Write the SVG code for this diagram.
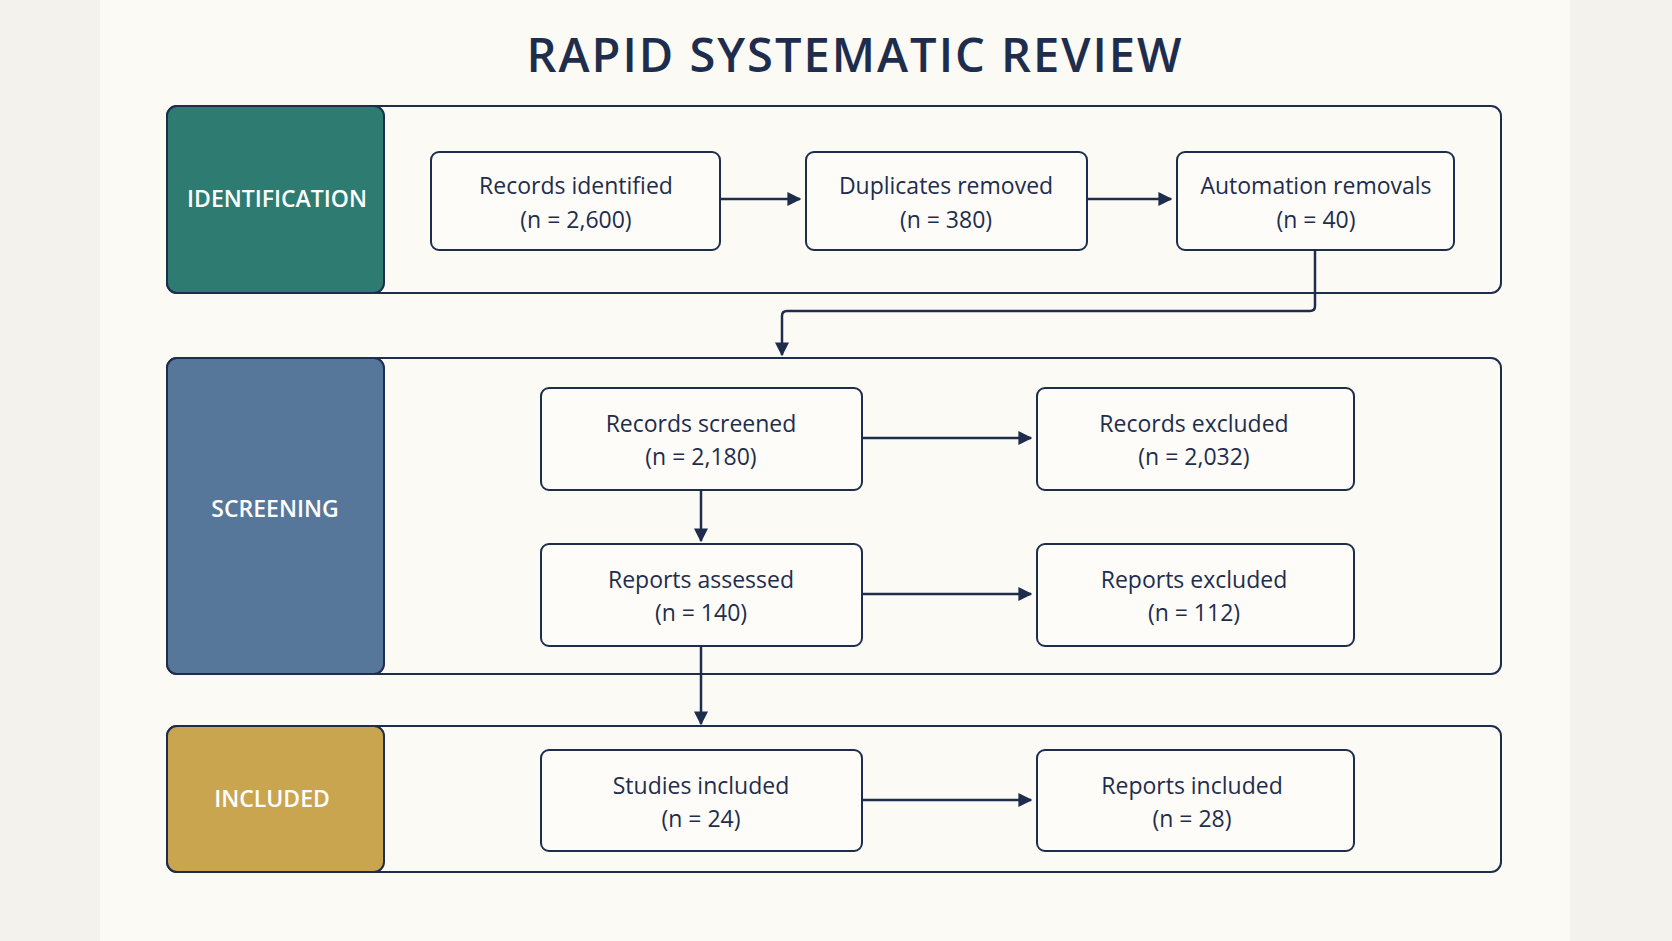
<svg xmlns="http://www.w3.org/2000/svg" width="1672" height="941" viewBox="0 0 1672 941">
<defs>
<marker id="ah" viewBox="0 0 10 10" refX="9" refY="5" markerWidth="14" markerHeight="14" orient="auto" markerUnits="userSpaceOnUse"><path d="M0,0 L10,5 L0,10 z" fill="#1f2d4d"/></marker>
<style>
.band{fill:none;stroke:#1f2d4d;stroke-width:2}
.node{fill:#fdfcf8;stroke:#1f2d4d;stroke-width:2}
.t{font-family:"Open Sans","Liberation Sans",sans-serif;font-size:23px;fill:#1f2d4d;text-anchor:middle}
.lab{font-family:"Open Sans","Liberation Sans",sans-serif;font-size:23px;font-weight:600;fill:#ffffff;text-anchor:middle}
.c{fill:none;stroke:#1f2d4d;stroke-width:2.5;marker-end:url(#ah)}
</style>
</defs>
<rect width="1672" height="941" fill="#f4f2ec"/>
<rect x="100" y="0" width="1470" height="941" fill="#fbfaf5"/>
<text x="855" y="72" font-family="'Open Sans','Liberation Sans',sans-serif" font-size="47" font-weight="600" fill="#1f2d4d" text-anchor="middle" letter-spacing="2">RAPID SYSTEMATIC REVIEW</text>
<g id="identification">
<rect class="band" x="167" y="106" width="1334" height="187" rx="10"/>
<rect x="167" y="106" width="217" height="187" rx="10" fill="#2e7b72" stroke="#1f2d4d" stroke-width="2"/>
<text class="lab" x="277" y="207">IDENTIFICATION</text>
</g>
<g id="screening">
<rect class="band" x="167" y="358" width="1334" height="316" rx="10"/>
<rect x="167" y="358" width="217" height="316" rx="10" fill="#567799" stroke="#1f2d4d" stroke-width="2"/>
<text class="lab" x="275" y="517">SCREENING</text>
</g>
<g id="included">
<rect class="band" x="167" y="726" width="1334" height="146" rx="10"/>
<rect x="167" y="726" width="217" height="146" rx="10" fill="#c9a550" stroke="#1f2d4d" stroke-width="2"/>
<text class="lab" x="272" y="807">INCLUDED</text>
</g>
<g id="n1"><rect class="node" x="431" y="152" width="289" height="98" rx="8"/><text class="t" x="576" y="194">Records identified</text><text class="t" x="576" y="228">(n = 2,600)</text></g>
<g id="n2"><rect class="node" x="806" y="152" width="281" height="98" rx="8"/><text class="t" x="946" y="194">Duplicates removed</text><text class="t" x="946" y="228">(n = 380)</text></g>
<g id="n3"><rect class="node" x="1177" y="152" width="277" height="98" rx="8"/><text class="t" x="1316" y="194">Automation removals</text><text class="t" x="1316" y="228">(n = 40)</text></g>
<g id="n4"><rect class="node" x="541" y="388" width="321" height="102" rx="8"/><text class="t" x="701" y="432">Records screened</text><text class="t" x="701" y="465">(n = 2,180)</text></g>
<g id="n5"><rect class="node" x="1037" y="388" width="317" height="102" rx="8"/><text class="t" x="1194" y="432">Records excluded</text><text class="t" x="1194" y="465">(n = 2,032)</text></g>
<g id="n6"><rect class="node" x="541" y="544" width="321" height="102" rx="8"/><text class="t" x="701" y="588">Reports assessed</text><text class="t" x="701" y="621">(n = 140)</text></g>
<g id="n7"><rect class="node" x="1037" y="544" width="317" height="102" rx="8"/><text class="t" x="1194" y="588">Reports excluded</text><text class="t" x="1194" y="621">(n = 112)</text></g>
<g id="n8"><rect class="node" x="541" y="750" width="321" height="101" rx="8"/><text class="t" x="701" y="794">Studies included</text><text class="t" x="701" y="827">(n = 24)</text></g>
<g id="n9"><rect class="node" x="1037" y="750" width="317" height="101" rx="8"/><text class="t" x="1192" y="794">Reports included</text><text class="t" x="1192" y="827">(n = 28)</text></g>
<g id="connectors">
<path class="c" d="M720,199 H800"/>
<path class="c" d="M1087,199 H1171"/>
<path class="c" d="M1315,250 V306 Q1315,311 1310,311 H787 Q782,311 782,316 V355"/>
<path class="c" d="M862,438 H1031"/>
<path class="c" d="M701,490 V541"/>
<path class="c" d="M862,594 H1031"/>
<path class="c" d="M701,646 V724"/>
<path class="c" d="M862,800 H1031"/>
</g>
</svg>
